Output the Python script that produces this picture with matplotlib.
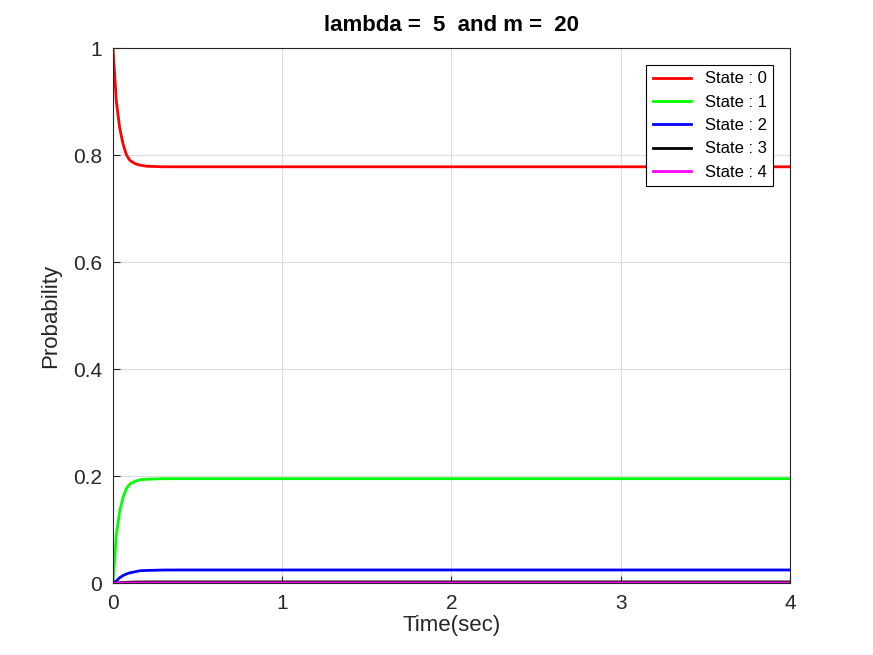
import matplotlib.pyplot as plt

# values
t = [0, 0.02, 0.04, 0.06, 0.08, 0.1, 0.13, 0.16, 0.2, 0.3, 0.4, 0.5, 1, 2, 3, 4]
p0 = [1, 0.90, 0.85, 0.82, 0.80, 0.79, 0.784, 0.781, 0.779, 0.778, 0.778, 0.778, 0.778, 0.778, 0.778, 0.778]
p1 = [0, 0.09, 0.135, 0.16, 0.177, 0.185, 0.19, 0.193, 0.194, 0.195, 0.195, 0.195, 0.195, 0.195, 0.195, 0.195]
p2 = [0, 0.004, 0.010, 0.014, 0.017, 0.019, 0.021, 0.023, 0.0235, 0.0243, 0.0244, 0.0244, 0.0244, 0.0244, 0.0244, 0.0244]
p3 = [0, 0.0002, 0.0006, 0.001, 0.0013, 0.0015, 0.0018, 0.0019, 0.002, 0.002, 0.002, 0.002, 0.002, 0.002, 0.002, 0.002]
p4 = [0, 0.00001, 0.00003, 0.00005, 0.00007, 0.00008, 0.0001, 0.00011, 0.00012, 0.00013, 0.00013, 0.00013, 0.00013, 0.00013, 0.00013, 0.00013]
series = [p0, p1, p2, p3, p4]
colors = ['#ff0000', '#00ff00', '#0000ff', '#000000', '#ff00ff']

plt.rcParams['font.family'] = ['Liberation Sans', 'DejaVu Sans']
fig = plt.figure(figsize=(8.73, 6.55), dpi=100)
ax = fig.add_axes([0.1294, 0.1099, 0.7755, 0.8168])
for i, (p, c) in enumerate(zip(series, colors)):
    ax.plot(t, p, color=c, lw=2, label='State : %d' % i)

ax.set_xlim(0, 4)
ax.set_ylim(0, 1)
ax.set_xticks([0, 1, 2, 3, 4])
ax.set_yticks([0, 0.2, 0.4, 0.6, 0.8, 1])
ax.set_yticklabels(['0', '0.2', '0.4', '0.6', '0.8', '1'])
ax.tick_params(direction='in', labelsize=15, length=5, colors='#262626', pad=8)
ax.grid(True, color='#dcdcdc', lw=0.8)
for s in ax.spines.values():
    s.set_color('#262626')
ax.set_xlabel('Time(sec)', fontsize=16, color='#262626', labelpad=1)
ax.set_ylabel('Probability', fontsize=16, color='#262626', labelpad=8)
ax.set_title('lambda =  5  and m =  20', fontsize=16, fontweight='bold', pad=12)
leg = ax.legend(loc='upper right', fontsize=12, fancybox=False, framealpha=1,
                edgecolor='black', borderaxespad=1.0, handlelength=2.3)
leg.get_frame().set_linewidth(0.8)
fig.savefig('out.png', dpi=100)
